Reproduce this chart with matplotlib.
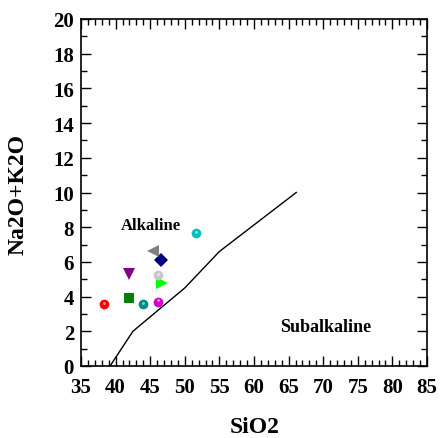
import matplotlib
matplotlib.use("Agg")
import matplotlib.pyplot as plt
from matplotlib.ticker import MultipleLocator

# Boundary line (Irvine & Baragar style alkaline/subalkaline divide)
line_sio2 = [39.2, 42.5, 50.0, 55.0, 66.1]
line_alk = [0.0, 2.0, 4.5, 6.6, 10.0]

# Samples
sio2 = [38.3, 41.9, 44.0, 46.1, 46.7, 46.1, 41.9, 46.6, 45.4, 51.6]
alk = [3.57, 3.9, 3.57, 3.7, 4.8, 5.25, 5.3, 6.1, 6.6, 7.67]
markers = ['o', 's', 'o', 'o', '>', 'o', 'v', 'D', '<', 'o']
colors = ['#ff0000', '#008000', '#008b8b', '#cc00cc', '#00ff00', '#c8c8c8',
          '#800080', '#000080', '#808080', '#00c0c0']
sizes = [7, 6.5, 7, 7, 9, 7, 9, 7, 9, 7]

xticks = list(range(35, 90, 5))
yticks = list(range(0, 22, 2))

plt.rcParams['font.family'] = ['Liberation Serif', 'DejaVu Serif']
plt.rcParams['font.weight'] = 'bold'

fig = plt.figure(figsize=(4.4, 4.39), dpi=100)
ax = fig.add_axes([81/440, 1-367/439, 346/440, 347/439])

ax.plot(line_sio2, line_alk, color='black', lw=1.0)
for x, y, m, c, s in zip(sio2, alk, markers, colors, sizes):
    ax.plot([x], [y], marker=m, color=c, markersize=s, linestyle='none',
            markeredgewidth=0)
    if m == 'o':
        ax.plot([x], [y + 0.08], marker='o', color='white', markersize=2,
                linestyle='none', markeredgewidth=0, alpha=0.6)

ax.text(45.1, 8.1, 'Alkaline', ha='center', va='center', fontsize=12,
        fontweight='bold')
ax.text(70.3, 2.3, 'Subalkaline', ha='center', va='center', fontsize=13,
        fontweight='bold')

ax.set_xlim(35, 85)
ax.set_ylim(0, 20)
ax.set_xticks(xticks)
ax.set_yticks(yticks)
ax.xaxis.set_minor_locator(MultipleLocator(1))
ax.yaxis.set_minor_locator(MultipleLocator(1))
ax.tick_params(which='both', direction='in', top=True, right=True,
               labelsize=15, width=1)
ax.tick_params(which='major', length=7)
ax.tick_params(which='minor', length=4)
ax.tick_params(axis='x', pad=8)
ax.tick_params(axis='y', pad=5)
for lab in ax.get_xticklabels() + ax.get_yticklabels():
    lab.set_fontweight('bold')
for sp in ax.spines.values():
    sp.set_linewidth(1.2)

fig.text(255/440, 1-428/439, 'SiO2', ha='center', va='center', fontsize=17,
         fontweight='bold')
fig.text(18/440, 1-195/439, 'Na2O+K2O', ha='center', va='center',
         rotation=90, fontsize=17, fontweight='bold')

fig.savefig('out.png', dpi=100)
